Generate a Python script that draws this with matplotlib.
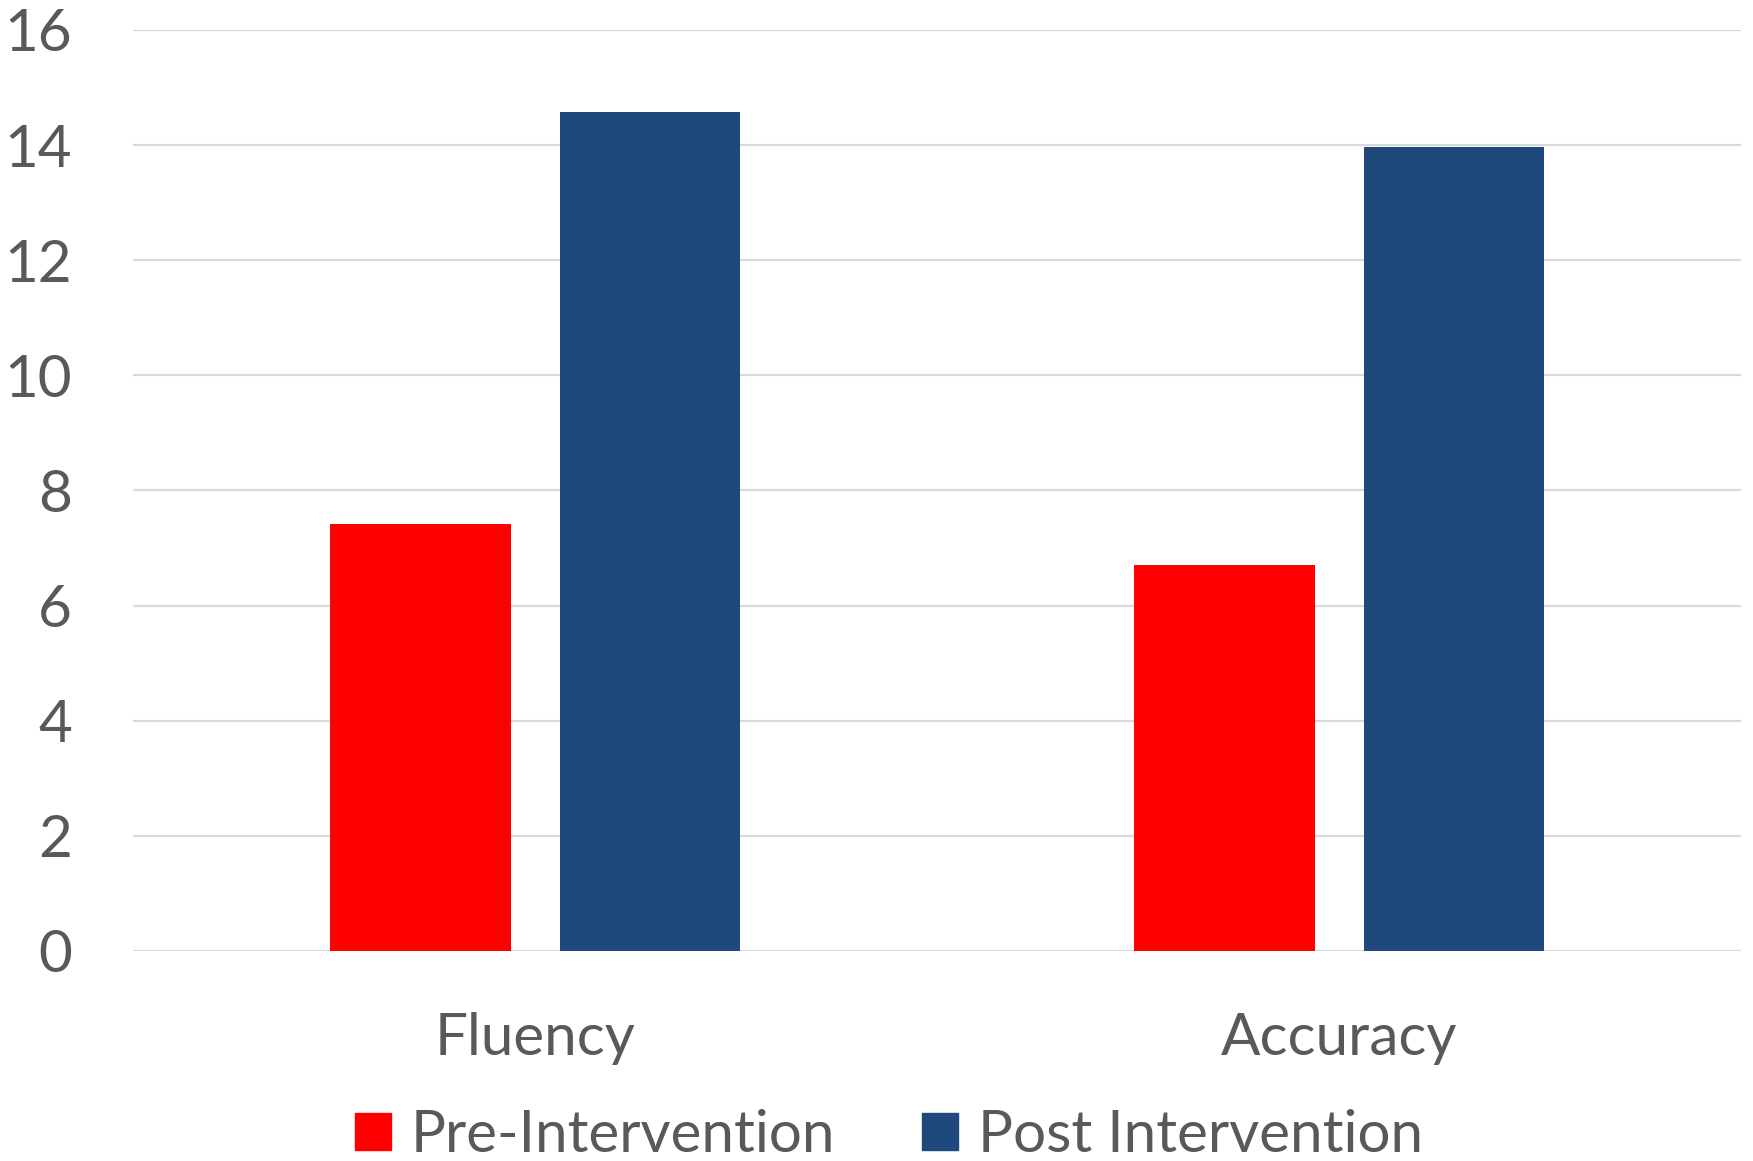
import numpy as np
import matplotlib
matplotlib.use("Agg")
import matplotlib.pyplot as plt
from matplotlib.patches import Patch

plt.rcParams['font.family'] = ['Lato', 'DejaVu Sans']

categories = ["Fluency", "Accuracy"]
pre_values = [7.42, 6.71]
post_values = [14.57, 13.96]
series_names = ["Pre-Intervention", "Post Intervention"]
yticks = [0, 2, 4, 6, 8, 10, 12, 14, 16]

RED = "#FF0000"
BLUE = "#1F497D"
TEXT = "#595959"
GRID = "#D9D9D9"

fig = plt.figure(figsize=(17.53, 11.61), dpi=100)
ax = fig.add_axes([0.0759, 0.1809, 0.9173, 0.7933])

x = np.arange(len(categories))
w = 0.224
off = 0.1425
ax.bar(x - off, pre_values, w, color=RED, zorder=3)
ax.bar(x + off, post_values, w, color=BLUE, zorder=3)

ax.set_xlim(-0.5, len(categories) - 0.5)
ax.set_ylim(0, 16)
ax.set_yticks(yticks)
ax.set_yticklabels([str(t) for t in yticks])
ax.set_xticks(x)
ax.set_xticklabels(categories)

for s in ax.spines.values():
    s.set_visible(False)
ax.grid(axis="y", color=GRID, linewidth=1.6, zorder=0)
ax.tick_params(axis="both", length=0, labelsize=42, colors=TEXT)
ax.tick_params(axis="y", pad=44)
ax.tick_params(axis="x", pad=44)

handles = [Patch(color=RED), Patch(color=BLUE)]
fig.legend(handles, series_names, loc="center", bbox_to_anchor=(0.507, 0.022),
           ncol=2, frameon=False, fontsize=42, labelcolor=TEXT,
           handlelength=0.62, handleheight=0.62, handletextpad=0.33,
           columnspacing=1.5)

fig.savefig("out.png", dpi=100, facecolor="white")
